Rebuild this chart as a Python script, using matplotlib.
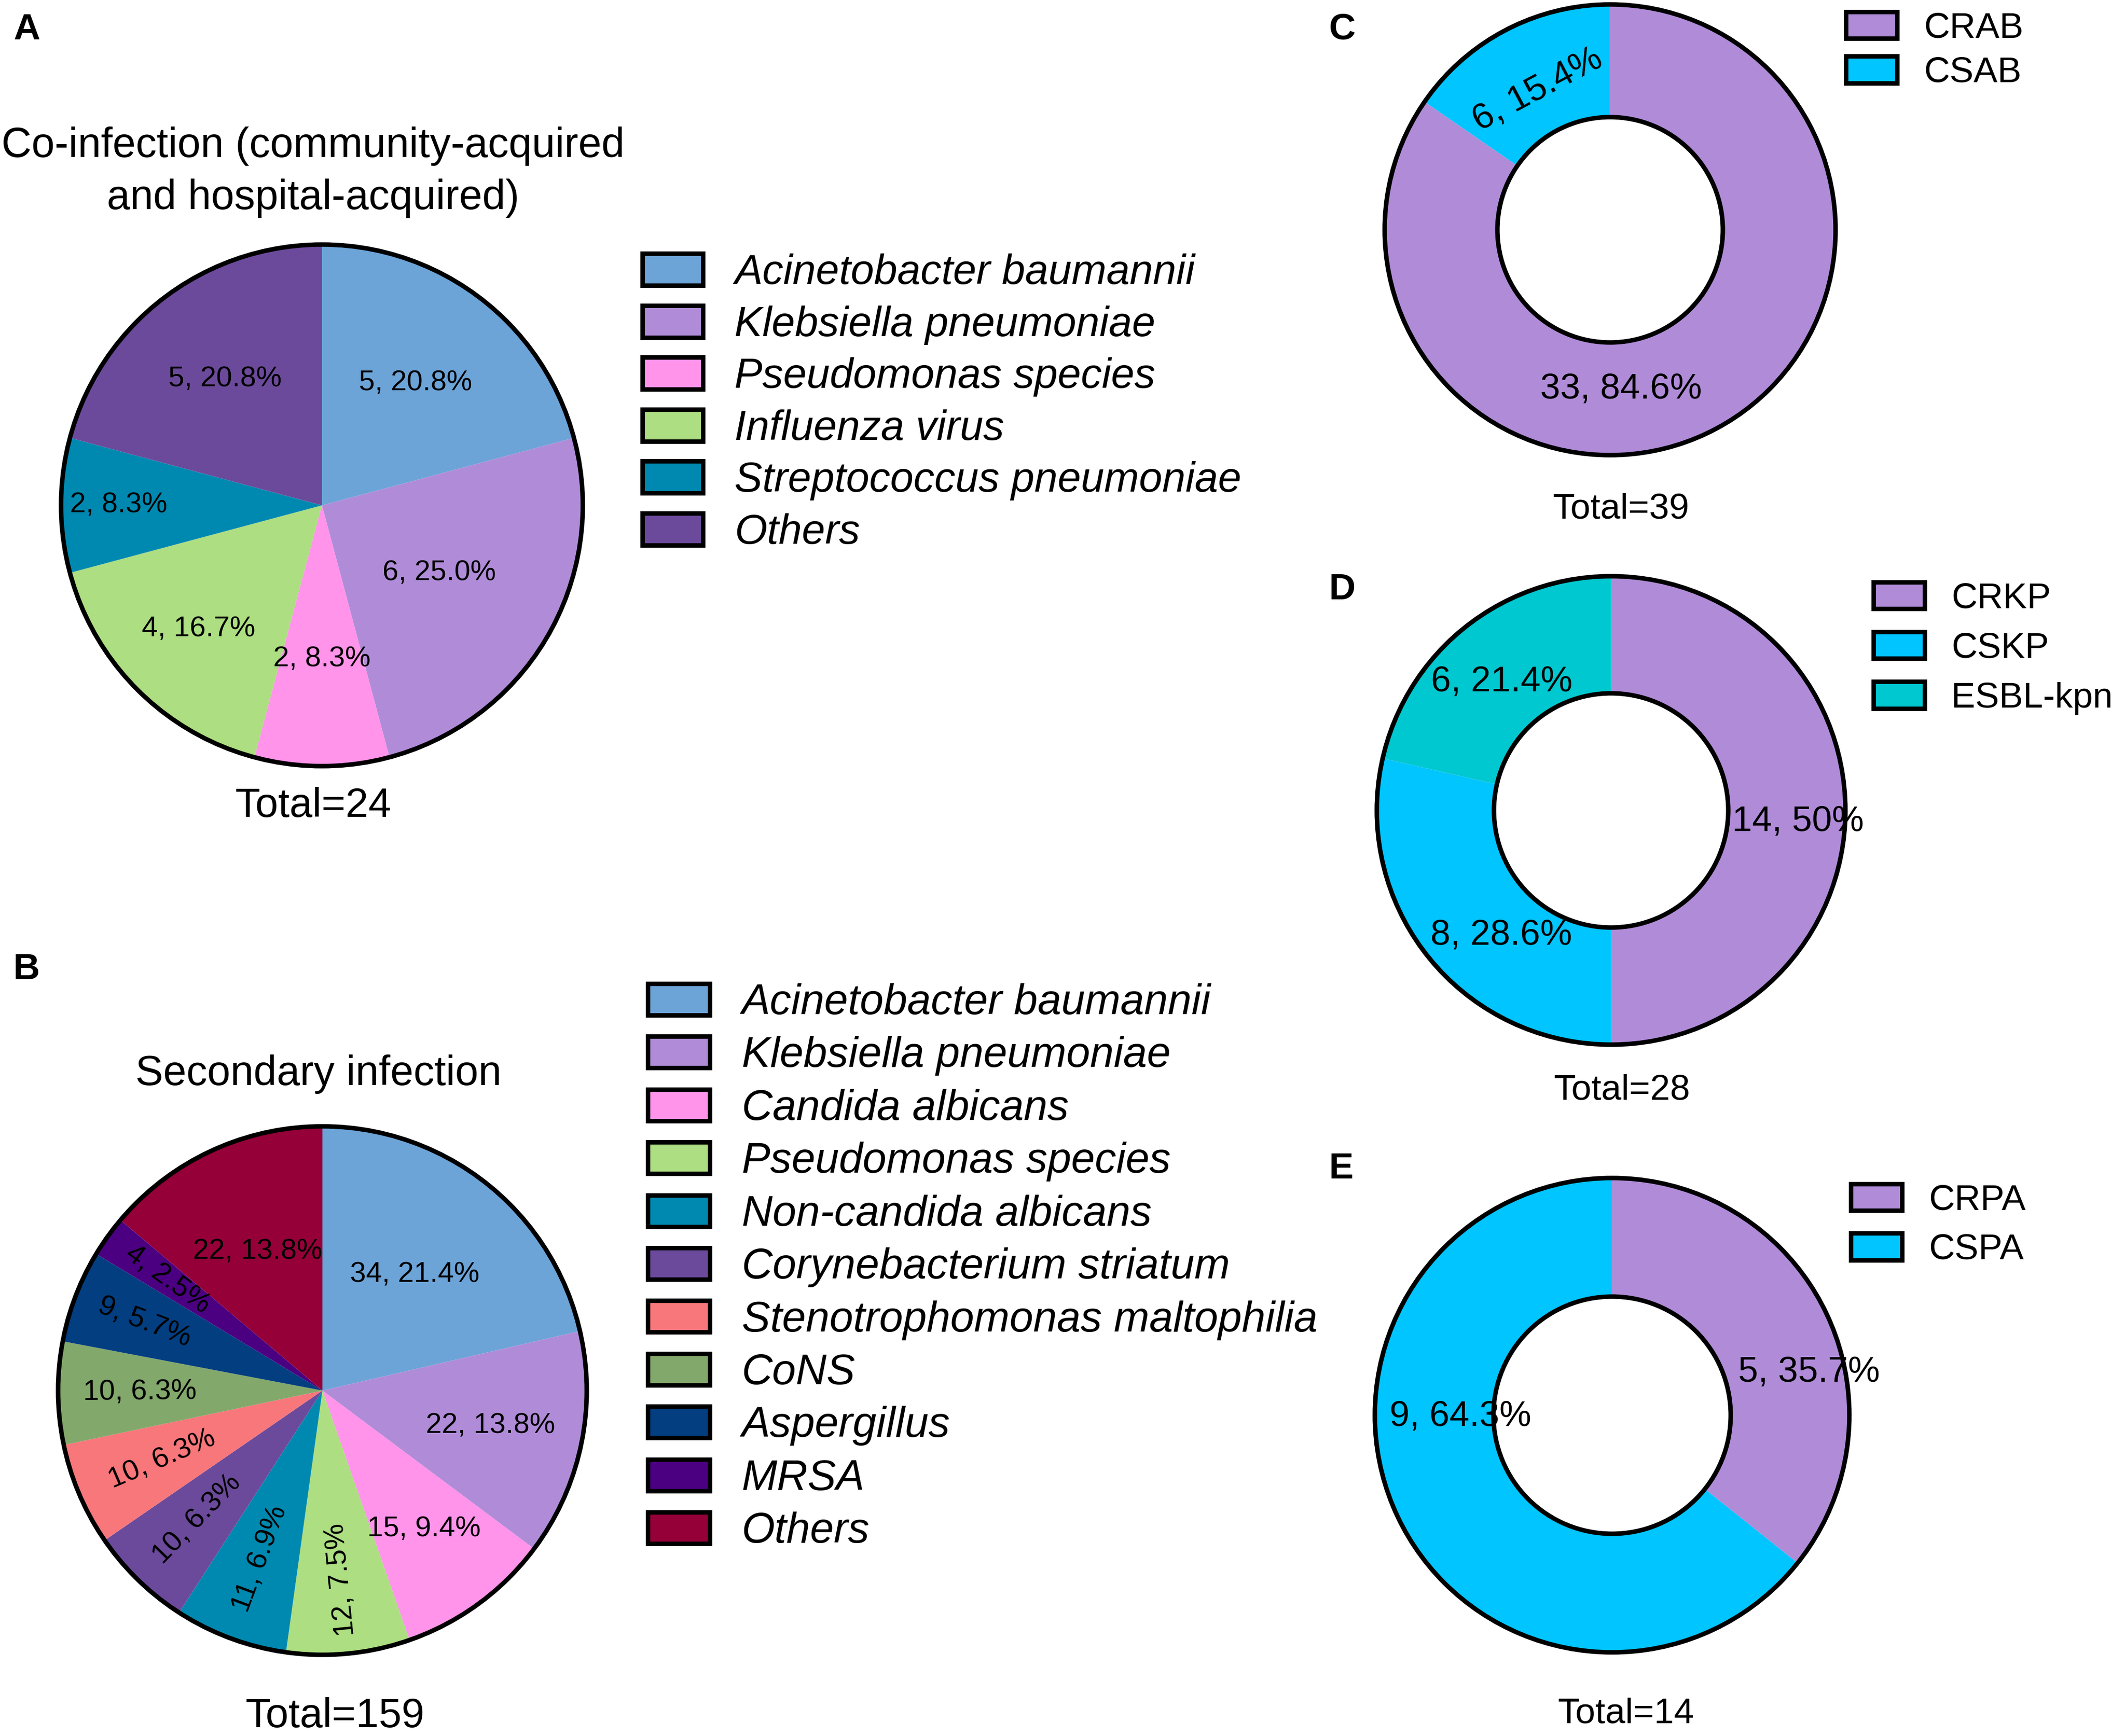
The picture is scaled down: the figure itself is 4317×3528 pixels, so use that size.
import matplotlib
matplotlib.use('Agg')
import matplotlib.pyplot as plt
from matplotlib.patches import Circle, Patch
import numpy as np

plt.rcParams['font.family'] = ['Liberation Sans', 'DejaVu Sans']

# ---- data ----
a_names = ['Acinetobacter baumannii', 'Klebsiella pneumoniae', 'Pseudomonas species',
           'Influenza virus', 'Streptococcus pneumoniae', 'Others']
a_counts = [5, 6, 2, 4, 2, 5]

b_names = ['Acinetobacter baumannii', 'Klebsiella pneumoniae', 'Candida albicans',
           'Pseudomonas species', 'Non-candida albicans', 'Corynebacterium striatum',
           'Stenotrophomonas maltophilia', 'CoNS', 'Aspergillus', 'MRSA', 'Others']
b_counts = [34, 22, 15, 12, 11, 10, 10, 10, 9, 4, 22]

c_names = ['CRAB', 'CSAB']
c_counts = [33, 6]

d_names = ['CRKP', 'CSKP', 'ESBL-kpn']
d_counts = [14, 8, 6]

e_names = ['CRPA', 'CSPA']
e_counts = [5, 9]

# ---- styles ----
a_colors = ['#6CA4D8', '#B08CD8', '#FF94EA', '#ADDE82', '#0089B0', '#6C4A9B']
b_colors = ['#6CA4D8', '#B08CD8', '#FF94EA', '#ADDE82', '#0089B0', '#6C4A9B',
            '#F8777B', '#83A86B', '#023E80', '#4B0082', '#950038']
c_colors = ['#B08CD8', '#00C5FF']
d_colors = ['#B08CD8', '#00C5FF', '#00C8D0']
e_colors = ['#B08CD8', '#00C5FF']

a_label_r = [0.59, 0.52, 0.59, 0.67, 0.78, 0.61]
b_label_r = [0.56, 0.65, 0.65, 0.72, 0.68, 0.68, 0.66, 0.69, 0.72, 0.72, 0.58]
# donut label placement (angle in degrees, radius fraction, rotation)
c_label_pos = [(-86, 0.71, 0), (117.4, 0.70, 28)]
d_label_pos = [(-3.5, 0.80, 0), (-131.3, 0.71, 0), (130.4, 0.72, 0)]
e_label_pos = [(12.3, 0.85, 0), (180.5, 0.64, 0)]

W, H = 4317, 3528
DPI = 300
fig = plt.figure(figsize=(W / DPI, H / DPI), dpi=DPI)
LW = 2.2


def pie_axes(cx, cy, r):
    pad = 1.1
    ax = fig.add_axes([(cx - r * pad) / W, 1 - (cy + r * pad) / H,
                       2 * r * pad / W, 2 * r * pad / H])
    return ax, pad


def draw_pie(cx, cy, r, counts, colors, label_r, fontsize):
    ax, pad = pie_axes(cx, cy, r)
    wedges, _ = ax.pie(counts, colors=colors, startangle=90, counterclock=False,
                       wedgeprops=dict(linewidth=0))
    ax.add_patch(Circle((0, 0), 1, fill=False, lw=LW, ec='black'))
    total = sum(counts)
    for w, n, lr in zip(wedges, counts, label_r):
        mid = (w.theta1 + w.theta2) / 2
        frac = n / total
        rot = mid + 180 if frac < 0.08 else 0
        x, y = lr * np.cos(np.radians(mid)), lr * np.sin(np.radians(mid))
        ax.text(x, y, f'{n}, {100 * frac:.1f}%', ha='center', va='center',
                fontsize=fontsize, rotation=rot, rotation_mode='anchor')
    ax.set_xlim(-pad, pad)
    ax.set_ylim(-pad, pad)
    ax.set_aspect('equal')
    ax.axis('off')


def draw_donut(cx, cy, r, counts, colors, label_pos, fontsize):
    ax, pad = pie_axes(cx, cy, r)
    ax.pie(counts, colors=colors, startangle=90, counterclock=False,
           wedgeprops=dict(linewidth=0, width=0.5))
    ax.add_patch(Circle((0, 0), 1, fill=False, lw=LW, ec='black'))
    ax.add_patch(Circle((0, 0), 0.5, fill=False, lw=LW, ec='black'))
    total = sum(counts)
    for n, (ang, lr, rot) in zip(counts, label_pos):
        pct = round(100 * n / total, 1)
        x, y = lr * np.cos(np.radians(ang)), lr * np.sin(np.radians(ang))
        ax.text(x, y, f'{n}, {pct:g}%', ha='center', va='center',
                fontsize=fontsize, rotation=rot, rotation_mode='anchor')
    ax.set_xlim(-pad, pad)
    ax.set_ylim(-pad, pad)
    ax.set_aspect('equal')
    ax.axis('off')


def add_legend(names, colors, left, top, fontsize, spacing, italic, hl, hh):
    handles = [Patch(facecolor=c, edgecolor='black', linewidth=LW) for c in colors]
    fig.legend(handles, names, loc='upper left', bbox_to_anchor=(left / W, 1 - top / H),
               frameon=False, borderpad=0, borderaxespad=0,
               prop=dict(family='Liberation Sans', style='italic' if italic else 'normal',
                         size=fontsize),
               handlelength=hl, handleheight=hh, handletextpad=0.75,
               labelspacing=spacing)


def ftext(x, y, s, **kw):
    fig.text(x / W, 1 - y / H, s, **kw)


# ---- panel A ----
draw_pie(654, 1027, 530, a_counts, a_colors, a_label_r, 14)
ftext(636, 350, 'Co-infection (community-acquired\nand hospital-acquired)', ha='center',
      va='center', fontsize=20.3, linespacing=1.42)
ftext(636, 1638, 'Total=' + str(sum(a_counts)), ha='center', va='center', fontsize=20)
add_legend(a_names, a_colors, 1305, 515, 20.4, 0.30, True, 1.45, 0.8)

# ---- panel B ----
draw_pie(655, 2826, 537, b_counts, b_colors, b_label_r, 14)
ftext(647, 2183, 'Secondary infection', ha='center', va='center', fontsize=20.3)
ftext(680, 3488, 'Total=' + str(sum(b_counts)), ha='center', va='center', fontsize=20)
add_legend(b_names, b_colors, 1316, 1998, 20.8, 0.305, True, 1.45, 0.76)

# ---- panels C, D, E ----
draw_donut(3271, 467, 458, c_counts, c_colors, c_label_pos, 17.5)
ftext(3293, 1035, 'Total=' + str(sum(c_counts)), ha='center', va='center', fontsize=17.5)
add_legend(c_names, c_colors, 3750, 24, 17.5, 0.31, False, 1.42, 0.77)

draw_donut(3273, 1647, 476, d_counts, d_colors, d_label_pos, 17.5)
ftext(3295, 2216, 'Total=' + str(sum(d_counts)), ha='center', va='center', fontsize=17.5)
add_legend(d_names, d_colors, 3806, 1183, 17.5, 0.46, False, 1.42, 0.77)

draw_donut(3275, 2876, 482, e_counts, e_colors, e_label_pos, 17.5)
ftext(3303, 3483, 'Total=' + str(sum(e_counts)), ha='center', va='center', fontsize=17.5)
add_legend(e_names, e_colors, 3760, 2406, 17.5, 0.45, False, 1.42, 0.77)

# ---- panel letters ----
for letter, x, y in [('A', 27, 80), ('B', 27, 1990), ('C', 2700, 80),
                     ('D', 2700, 1218), ('E', 2700, 2395)]:
    ftext(x, y, letter, ha='left', va='baseline', fontsize=18, fontweight='bold')

fig.savefig('out.png', dpi=DPI)
